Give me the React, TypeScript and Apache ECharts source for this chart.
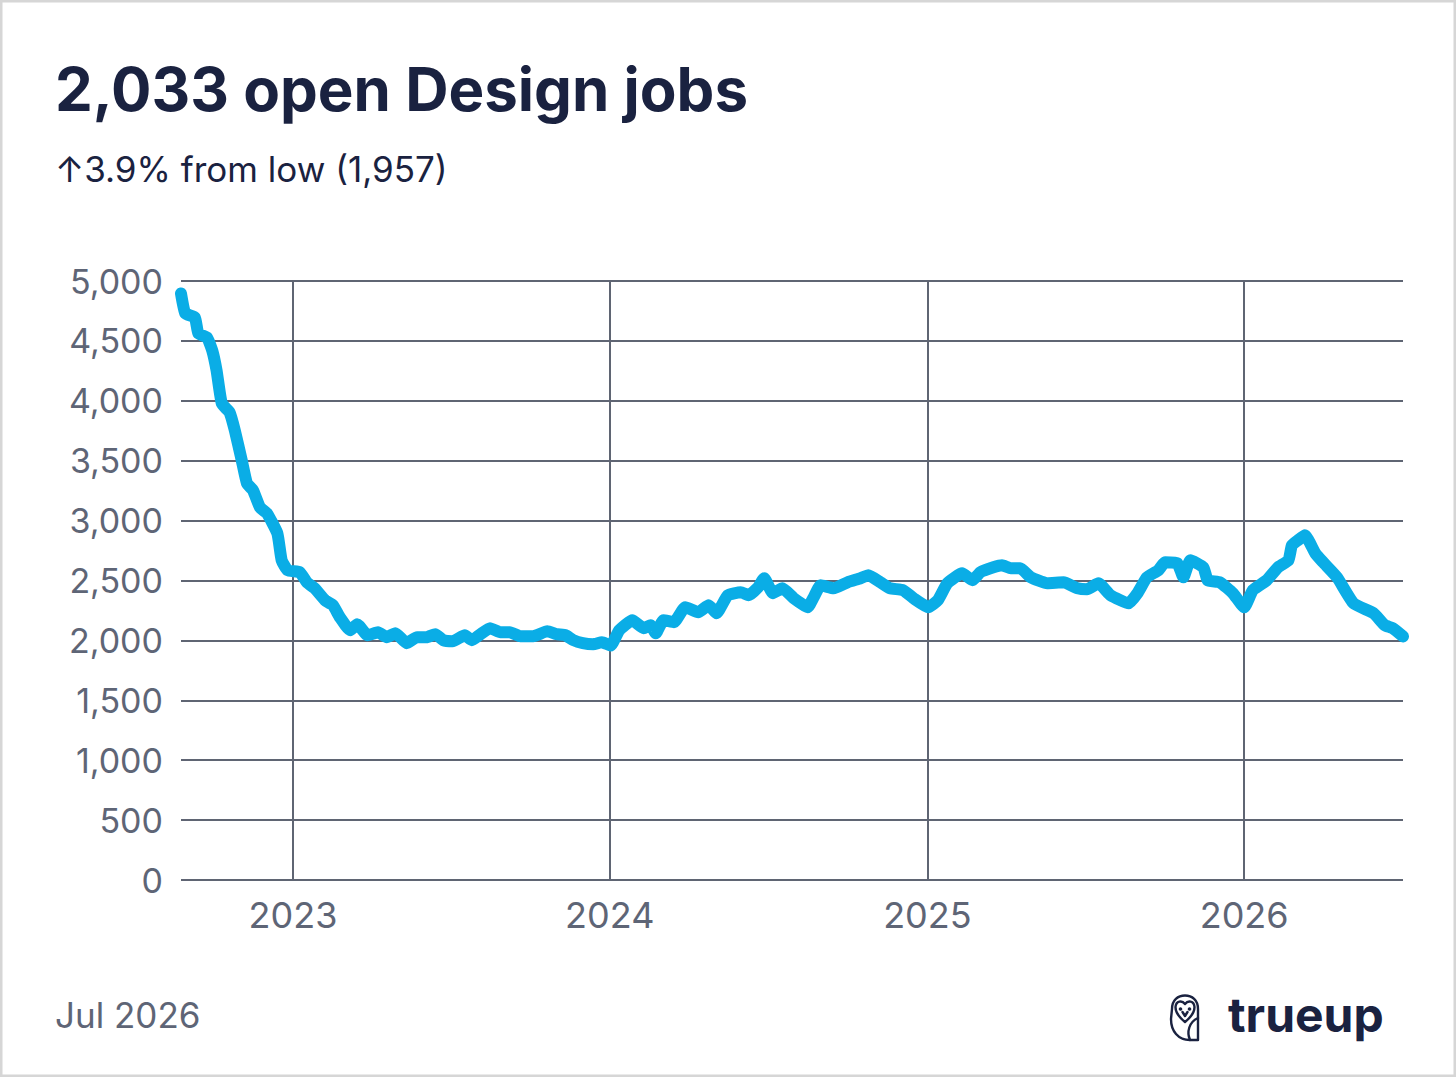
import React, { useEffect, useRef } from "react";
import * as echarts from "echarts";

const dates = [
  "2022-08-25", "2022-08-30", "2022-09-10", "2022-09-14", "2022-09-24", "2022-09-30",
  "2022-10-05", "2022-10-11", "2022-10-20", "2022-10-26", "2022-11-03", "2022-11-09",
  "2022-11-16", "2022-11-24", "2022-12-02", "2022-12-14", "2022-12-19", "2022-12-26",
  "2023-01-09", "2023-01-17", "2023-01-26", "2023-02-07", "2023-02-16", "2023-02-24",
  "2023-03-08", "2023-03-16", "2023-03-28", "2023-04-09", "2023-04-19", "2023-04-29",
  "2023-05-12", "2023-05-24", "2023-06-04", "2023-06-14", "2023-06-23", "2023-07-04",
  "2023-07-18", "2023-07-26", "2023-08-05", "2023-08-16", "2023-08-28", "2023-09-08",
  "2023-09-20", "2023-10-05", "2023-10-21", "2023-11-01", "2023-11-11", "2023-11-20",
  "2023-12-01", "2023-12-13", "2023-12-23", "2024-01-02", "2024-01-12", "2024-01-27",
  "2024-02-09", "2024-02-17", "2024-02-23", "2024-03-03", "2024-03-15", "2024-03-28",
  "2024-04-12", "2024-04-24", "2024-05-03", "2024-05-16", "2024-05-31", "2024-06-09",
  "2024-06-20", "2024-06-27", "2024-07-07", "2024-07-18", "2024-07-31", "2024-08-16",
  "2024-08-23", "2024-08-31", "2024-09-15", "2024-10-01", "2024-10-16", "2024-10-25",
  "2024-11-08", "2024-11-19", "2024-12-04", "2024-12-16", "2025-01-02", "2025-01-13",
  "2025-01-24", "2025-02-10", "2025-02-22", "2025-03-03", "2025-03-18", "2025-03-28",
  "2025-04-07", "2025-04-18", "2025-04-30", "2025-05-19", "2025-06-07", "2025-06-23",
  "2025-07-04", "2025-07-17", "2025-07-31", "2025-08-21", "2025-08-31", "2025-09-11",
  "2025-09-24", "2025-10-02", "2025-10-16", "2025-10-23", "2025-10-31", "2025-11-15",
  "2025-11-20", "2025-12-04", "2025-12-19", "2026-01-01", "2026-01-11", "2026-01-27",
  "2026-02-09", "2026-02-21", "2026-02-25", "2026-03-04", "2026-03-12", "2026-03-24",
  "2026-04-02", "2026-04-18", "2026-05-07", "2026-05-30", "2026-06-12", "2026-06-21",
  "2026-07-03",
];

const openJobs = [
  4896, 4729, 4696, 4562, 4529, 4420,
  4253, 3978, 3903, 3753, 3503, 3311,
  3253, 3111, 3061, 2894, 2669, 2585,
  2569, 2485, 2435, 2335, 2294, 2193,
  2085, 2135, 2043, 2068, 2027, 2060,
  1977, 2027, 2027, 2052, 2002, 1993,
  2043, 2002, 2052, 2102, 2068, 2068,
  2035, 2035, 2077, 2052, 2043, 2002,
  1977, 1968, 1985, 1957, 2085, 2168,
  2102, 2127, 2060, 2168, 2152, 2277,
  2235, 2294, 2227, 2377, 2402, 2377,
  2444, 2519, 2394, 2435, 2352, 2277,
  2360, 2460, 2435, 2485, 2519, 2544,
  2485, 2435, 2419, 2352, 2277, 2335,
  2477, 2560, 2502, 2569, 2610, 2627,
  2602, 2602, 2527, 2477, 2485, 2435,
  2427, 2477, 2377, 2310, 2394, 2527,
  2585, 2652, 2644, 2527, 2669, 2610,
  2502, 2485, 2394, 2277, 2419, 2502,
  2610, 2669, 2794, 2836, 2877, 2727,
  2652, 2527, 2310, 2227, 2127, 2102,
  2033,
];

const yearTicks = ["2023-01-01", "2024-01-01", "2025-01-01", "2026-01-01"];
const xStart = "2022-08-25";
const xEnd = "2026-07-03";
const yMax = 5000;
const yStep = 500;

const titleText = "2,033 open Design jobs";
const subtitleText = "\u21913.9% from low (1,957)";
const footerDate = "Jul 2026";
const brandText = "trueup";

const OWL_OUTLINE =
  "M4 15 C4 6 10 1.5 17 1.5 C24 1.5 30 6 30 15 L30 46 L22 46 C10 46 3 37 3 25 Z";
const OWL_FACE =
  "M17 10 C14 6 8 6.5 7.5 13 C7.5 19 12 24 17 28 C22 24 26.5 19 26.5 13 C26 6.5 20 6 17 10 Z M14.5 18 L17 22 L19.5 18";
const OWL_WING = "M30 24 C21 28 18.5 38 22 46";

let registered = false;
function registerShapes() {
  if (registered) return;
  echarts.graphic.registerShape("owlOutline", echarts.graphic.extendPath(OWL_OUTLINE, {}));
  echarts.graphic.registerShape("owlFace", echarts.graphic.extendPath(OWL_FACE, {}));
  echarts.graphic.registerShape("owlWing", echarts.graphic.extendPath(OWL_WING, {}));
  registered = true;
}

const NAVY = "#1a2240";
const GREY = "#5e6576";
const GRID = "#5f6573";
const BLUE = "#0aade6";
const FONT = "Inter, 'Noto Sans', sans-serif";

export default function App() {
  const ref = useRef<HTMLDivElement>(null);

  useEffect(() => {
    if (!ref.current) return;
    registerShapes();
    const chart = echarts.init(ref.current, undefined, { renderer: "svg" });
    const data = dates.map((d, i) => [Date.parse(d), openJobs[i]]);
    const owlStyle = { fill: "none", stroke: NAVY, lineWidth: 2.4, lineJoin: "round", lineCap: "round" };

    chart.setOption({
      animation: false,
      backgroundColor: "#ffffff",
      textStyle: { fontFamily: FONT },
      grid: { left: 181, right: 53, top: 281, bottom: 197, containLabel: false },
      xAxis: {
        type: "time",
        min: Date.parse(xStart),
        max: Date.parse(xEnd),
        axisLine: { show: false },
        axisTick: { show: false },
        axisLabel: { show: false },
        splitLine: { show: false },
      },
      yAxis: {
        type: "value",
        min: 0,
        max: yMax,
        interval: yStep,
        axisLine: { show: false },
        axisTick: { show: false },
        axisLabel: {
          color: GREY,
          fontSize: 34,
          fontFamily: FONT,
          margin: 18,
          formatter: (v: number) => v.toLocaleString("en-US"),
        },
        splitLine: { show: true, lineStyle: { color: GRID, width: 2 } },
      },
      series: [
        {
          type: "line",
          data,
          z: 5,
          showSymbol: false,
          symbol: "none",
          smooth: 0.15,
          lineStyle: { color: BLUE, width: 12, cap: "round", join: "round" },
          markLine: {
            z: 1,
            silent: true,
            symbol: ["none", "none"],
            animation: false,
            lineStyle: { color: GRID, width: 2, type: "solid" },
            label: {
              show: true,
              position: "start",
              distance: 17,
              color: GREY,
              fontSize: 36,
              fontFamily: FONT,
              formatter: (p: any) => String(new Date(p.value).getUTCFullYear()),
            },
            emphasis: { disabled: true },
            data: yearTicks.map((d) => ({ xAxis: Date.parse(d) })),
          },
        },
      ],
      graphic: [
        {
          type: "rect",
          silent: true,
          shape: { x: 1, y: 1, width: 1454, height: 1075 },
          style: { fill: "none", stroke: "#d6d6d6", lineWidth: 3 },
        },
        {
          type: "text",
          left: 55,
          top: 59,
          style: { text: titleText, fill: NAVY, font: `bold 60px ${FONT}` },
        },
        {
          type: "text",
          left: 55,
          top: 151,
          style: { text: subtitleText, fill: NAVY, font: `35px ${FONT}` },
        },
        {
          type: "text",
          left: 55,
          top: 997,
          style: { text: footerDate, fill: GREY, font: `35px ${FONT}` },
        },
        {
          type: "text",
          left: 1228,
          top: 990,
          style: { text: brandText, fill: NAVY, font: `bold 48px ${FONT}` },
        },
        {
          type: "group",
          x: 1168,
          y: 994,
          children: [
            { type: "owlOutline", style: owlStyle },
            { type: "owlFace", style: owlStyle },
            { type: "owlWing", style: owlStyle },
            { type: "circle", shape: { cx: 12.5, cy: 15, r: 1.8 }, style: { fill: NAVY } },
            { type: "circle", shape: { cx: 21.5, cy: 15, r: 1.8 }, style: { fill: NAVY } },
          ],
        },
      ],
    });
    return () => chart.dispose();
  }, []);

  return (
    <div
      ref={ref}
      style={{ position: "fixed", left: 0, top: 0, width: 1456, height: 1077, background: "#fff" }}
    />
  );
}
